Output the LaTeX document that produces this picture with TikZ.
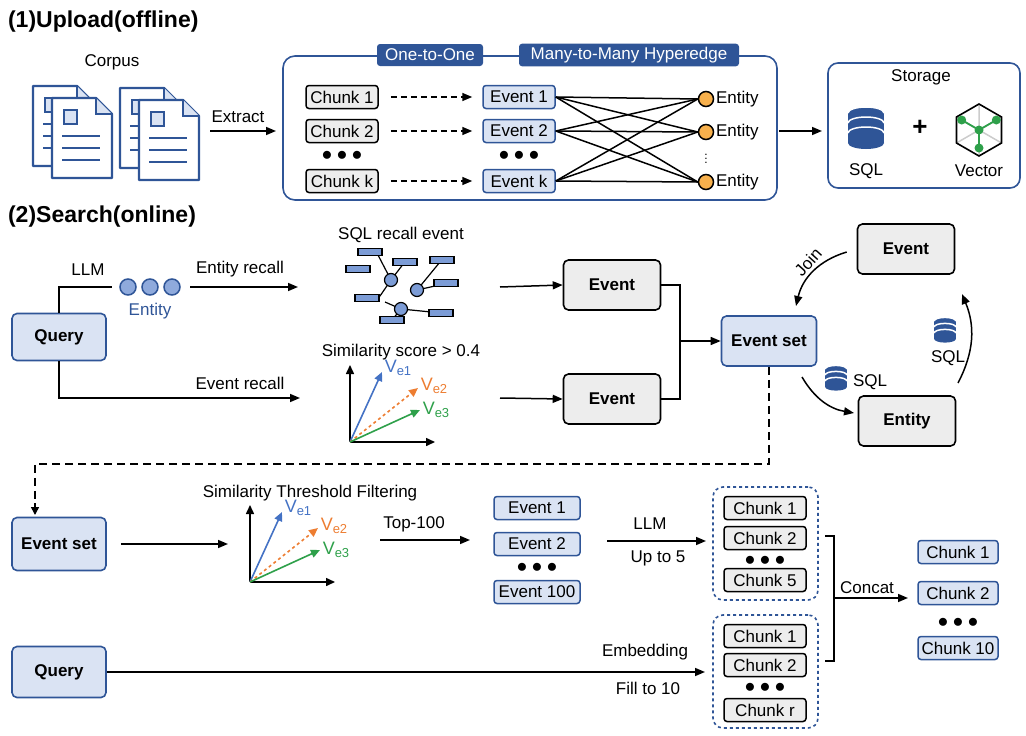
\documentclass[tikz,border=0pt]{standalone}
\usepackage{fontspec}
\setmainfont{Liberation Sans}
\usetikzlibrary{arrows.meta,shapes.geometric}
\definecolor{dblue}{HTML}{2F5597}
\definecolor{lblue}{HTML}{DAE3F3}
\definecolor{lgray}{HTML}{EDEDED}
\definecolor{vblue}{HTML}{4472C4}
\definecolor{vorange}{HTML}{ED7D31}
\definecolor{vgreen}{HTML}{2EA04A}
\definecolor{entorange}{HTML}{F7B04C}
\newcommand\fs[1]{\fontsize{#1}{#1}\selectfont}
% database icon
\newcommand\dbicon[3]{%
  \begin{scope}[shift={(#1,#2)},scale=#3]
    \fill[dblue] (-18,-15) rectangle (18,15);
    \fill[dblue] (0,-15) ellipse (18 and 6);
    \fill[dblue] (0,15) ellipse (18 and 6);
    \draw[white,line width=1.5pt] (-18,-5) arc (180:360:18 and 6);
    \draw[white,line width=1.5pt] (-18,5) arc (180:360:18 and 6);
    \draw[white,line width=1.5pt] (-18,-15) arc (180:360:18 and 6);
  \end{scope}}
% document icon
\newcommand\docicon[2]{%
  \begin{scope}[shift={(#1,#2)}]
    \draw[dblue,line width=2.4pt,fill=white,line join=round] (0,0) -- (44,0) -- (60,16) -- (60,80) -- (0,80) -- cycle;
    \draw[dblue,line width=1.5pt,fill=lblue] (44,0) -- (44,16) -- (60,16);
    \draw[dblue,line width=1.2pt,fill=lblue] (12,12) rectangle (25,26);
    \foreach \yy in {38,50,62} \draw[dblue,line width=2.2pt] (10,\yy) -- (48,\yy);
  \end{scope}}
% vector plot
\newcommand\vecplot[2]{%
  \begin{scope}[shift={(#1,#2)}]
    \draw[-{Triangle[length=9pt,width=8pt]},line width=1.5pt] (0,0) -- (0,-77);
    \draw[-{Triangle[length=9pt,width=8pt]},line width=1.5pt] (0,0) -- (85,0);
    \draw[vblue,-{Triangle[length=9pt,width=8pt]},line width=1.6pt] (0,0) -- (32,-70);
    \draw[vorange,dashed,-{Triangle[length=9pt,width=8pt]},line width=1.6pt] (0,0) -- (68,-54);
    \draw[vgreen,-{Triangle[length=9pt,width=8pt]},line width=1.6pt] (0,0) -- (70,-32);
    \node[vblue,anchor=west,inner sep=1pt] at (33,-74) {\fs{18}V\textsubscript{\fs{13}e1}};
    \node[vorange,anchor=west,inner sep=1pt] at (69,-56) {\fs{18}V\textsubscript{\fs{13}e2}};
    \node[vgreen,anchor=west,inner sep=1pt] at (71,-32) {\fs{18}V\textsubscript{\fs{13}e3}};
  \end{scope}}
\begin{document}
\begin{tikzpicture}[x=1pt,y=-1pt,>={Triangle[length=10pt,width=8pt]},line width=1.5pt,
  chunk/.style={draw,rounded corners=3pt,fill=lgray,minimum width=72pt,minimum height=23pt,inner sep=1pt,font=\fs{17}},
  evt/.style={draw=dblue,rounded corners=3pt,fill=lblue,minimum width=72pt,minimum height=23pt,inner sep=1pt,font=\fs{17}},
  big node/.style={draw,rounded corners=5pt,line width=1.6pt,fill=lgray,minimum width=97pt,minimum height=50pt,font=\fs{17}\bfseries},
  blue node/.style={big node,draw=dblue,fill=lblue},
  tab/.style={fill=dblue,text=white,rounded corners=3pt,minimum height=22pt,font=\fs{17}},
  entity/.style={circle,draw,fill=entorange,minimum size=15pt,inner sep=0pt},
  dots/.style={font=\fs{20}\bfseries}]
\tikzstyle{every node}=[font=\fs{17}]
\useasboundingbox (0,0) rectangle (1026,736);

% ---------- (1) Upload ----------
\node[anchor=west,font=\fs{23}\bfseries] (t1) at (4,22) {(1)Upload(offline)};
\node (corpus) at (112,62) {Corpus};
\docicon{33}{86}\docicon{52}{98}\docicon{120}{88}\docicon{139}{100}
\coordinate (ext) at (210,131);
\node (extract) at (238,117) {Extract};

\draw[dblue,line width=1.6pt,rounded corners=12pt] (283,56) rectangle (777,200);
\node[tab,minimum width=106pt] (tab1) at (430,55) {One-to-One};
\node[tab,minimum width=220pt] (tab2) at (629,55) {Many-to-Many Hyperedge};
\draw[->] (ext) -- (276,131);

\node[chunk] (c1) at (342,97) {Chunk 1};
\node[chunk] (c2) at (342,131) {Chunk 2};
\node[dots] at (342,156) {$\bullet\bullet\bullet$};
\node[chunk] (ck) at (342,181) {Chunk k};
\node[evt] (e1) at (519,97) {Event 1};
\node[evt] (e2) at (519,131) {Event 2};
\node[dots] at (519,156) {$\bullet\bullet\bullet$};
\node[evt] (ek) at (519,181) {Event k};
\foreach \a/\b in {c1/e1,c2/e2,ck/ek}
  \draw[dashed,dash pattern=on 6pt off 4pt,->] (\a.east) ++(12,0) -- ([xshift=-10pt]\b.west);
\node[entity] (n1) at (706,99) {};
\node[entity] (n2) at (706,132) {};
\node[entity] (n3) at (706,182) {};
\foreach \n in {n1,n2,n3} \node[anchor=west,inner sep=1pt] at (\n.east) {Entity};
\node[inner sep=0pt,font=\fs{12}] (vd) at (706,156) {$\vdots$};
\foreach \a in {e1,e2,ek}
  \foreach \n in {n1,n2,n3}
    \draw[line width=1.5pt] (\a.east) -- (\n.west);
\draw[->] (779,131) -- (822,131);

\node[draw=dblue,line width=1.6pt,rounded corners=10pt,minimum width=192pt,minimum height=125pt] (store) at (924,125.5) {};
\node (storage) at (921,77) {Storage};
\dbicon{866}{128}{1}
\node (sql) at (866,171) {SQL};
\node[font=\fs{26}\bfseries] (plus) at (920,128) {+};
\begin{scope}[shift={(979,130)}]
  \draw[gray!40] (0,0) -- (90:26) (0,0) -- (210:26) (0,0) -- (330:26) (0,0) -- (30:26) (0,0) -- (150:26) (0,0) -- (270:26);
  \draw[line width=1.6pt] (90:26) -- (150:26) -- (210:26) -- (270:26) -- (330:26) -- (30:26) -- cycle;
  \draw[vgreen,line width=1.8pt] (0,0) -- (90:18) (0,0) -- (210:20) (0,0) -- (330:20);
  \foreach \p in {(0,0),(90:18),(210:20),(330:20)} \fill[vgreen] \p circle (4.5);
\end{scope}
\node (vector) at (979,171) {Vector};

% ---------- (2) Search ----------
\node[anchor=west,font=\fs{23}\bfseries] (t2) at (4,217) {(2)Search(online)};
\node[blue node,minimum width=94pt,minimum height=47pt] (q1) at (59,337) {Query};
\foreach \x in {128,150,172} \node[circle,draw=dblue,fill=vblue!60,minimum size=16pt,inner sep=0pt] at (\x,287) {};
\coordinate (ent) at (112,287);
\draw (q1.north) |- (ent);
\node (llm1) at (88,270) {LLM};
\node[dblue] (entlab) at (150,311) {Entity};
\draw[->] (190,287) -- (298,287);
\node (er) at (240,269) {Entity recall};
\draw[->] (q1.south) |- (300,398);
\node (evr) at (240,383) {Event recall};

\node (sqlre) at (401,235) {SQL recall event};
\begin{scope}[line width=1.2pt]
  \draw (391,280) -- (378,255) (391,280) -- (404,263) (391,280) -- (380,296) -- (367,298)
        (417,290) -- (440,262) (417,290) -- (444,284) (401,309) -- (385,302) (401,309) -- (441,313) (401,309) -- (392,320);
  \foreach \x/\y in {370/252,358/269,405/262,442/260,446/283,367/298,392/320,441/313}
    \draw[fill=vblue!70] (\x-12,\y-3.5) rectangle (\x+12,\y+3.5);
  \foreach \x/\y in {391/280,417/290,401/309} \draw[fill=vblue!70] (\x,\y) circle (6.5);
\end{scope}
\node (sim1) at (401,352) {Similarity score > 0.4};
\vecplot{350}{442}

\node[big node] (ev1) at (612,285) {Event};
\node[big node] (ev2) at (612,399) {Event};
\draw[->] (500,287) -- (ev1.west);
\draw[->] (500,398) -- (ev2.west);
\node[blue node,minimum width=95pt] (es1) at (769,341) {Event set};
\draw (ev1.east) -| (680,341);
\draw (ev2.east) -| (680,341);
\draw[->] (680,341) -- (es1.west);

\node[big node] (ev3) at (906,249) {Event};
\node[big node] (en1) at (907,421) {Entity};
\draw[->] (ev3.west) ++(-10,3) to[bend right=30] (796,306);
\node[rotate=48] (join) at (808,262) {Join};
\draw[->] (802,377) to[bend right=25] (854,413);
\draw[->] (958,383) to[bend right=25] (962,294);
\dbicon{836}{378}{0.6}
\node (sql2) at (870,382) {SQL};
\dbicon{945}{330}{0.6}
\node (sql3) at (948,358) {SQL};

\coordinate (turn) at (35,464);
\draw[line width=2.2pt,dash pattern=on 8pt off 5pt] (es1.south) -- (769,464) -- (turn) -- (35,505);
\draw[-{Triangle[length=8pt,width=8pt]}] (35,503) -- (35,515);

\node[blue node,minimum width=94pt,minimum height=53pt] (es2) at (59,544) {Event set};
\draw[->] (es2.east) ++(14,0) -- (228,544);
\node (stf) at (310,493) {Similarity Threshold Filtering};
\vecplot{250}{582}
\node (top) at (414,524) {Top-100};
\draw[->] (380,540) -- (470,540);
\node[evt,minimum width=86pt] (s1) at (537,508) {Event 1};
\node[evt,minimum width=86pt] (s2) at (537,544) {Event 2};
\node[dots] at (537,568) {$\bullet\bullet\bullet$};
\node[evt,minimum width=86pt] (s3) at (537,592) {Event 100};
\node (llm2) at (650,524) {LLM};
\node (upto) at (658,558) {Up to 5};
\draw[->] (607,541) -- (706,541);

\node[draw=dblue,dashed,line width=1.6pt,rounded corners=10pt,minimum width=105pt,minimum height=113pt] (box1) at (765.5,543.5) {};
\node[chunk,minimum width=82pt] (a1) at (765,508) {Chunk 1};
\node[chunk,minimum width=82pt] (a2) at (765,538) {Chunk 2};
\node[dots] at (765,561) {$\bullet\bullet\bullet$};
\node[chunk,minimum width=82pt] (a5) at (765,580) {Chunk 5};
\node[draw=dblue,dashed,line width=1.6pt,rounded corners=10pt,minimum width=105pt,minimum height=113pt] (box2) at (765.5,671.5) {};
\node[chunk,minimum width=82pt] (b1) at (765,636) {Chunk 1};
\node[chunk,minimum width=82pt] (b2) at (765,665) {Chunk 2};
\node[dots] at (765,688) {$\bullet\bullet\bullet$};
\node[chunk,minimum width=82pt] (br) at (765,710) {Chunk r};

\draw (825,536) -- (834,536) -- (834,661) -- (825,661);
\draw[->] (834,598) -- (908,598);
\node (concat) at (867,588) {Concat};
\node[evt,minimum width=80pt] (o1) at (958,552) {Chunk 1};
\node[evt,minimum width=80pt] (o2) at (958,593) {Chunk 2};
\node[dots] at (958,623) {$\bullet\bullet\bullet$};
\node[evt,minimum width=80pt] (o3) at (958,648) {Chunk 10};

\node[blue node,minimum width=94pt,minimum height=51pt] (q2) at (59,672) {Query};
\draw[->] (q2.east) -- (705,672);
\node (emb) at (645,652) {Embedding};
\node (fill) at (648,688) {Fill to 10};
\end{tikzpicture}
\end{document}
